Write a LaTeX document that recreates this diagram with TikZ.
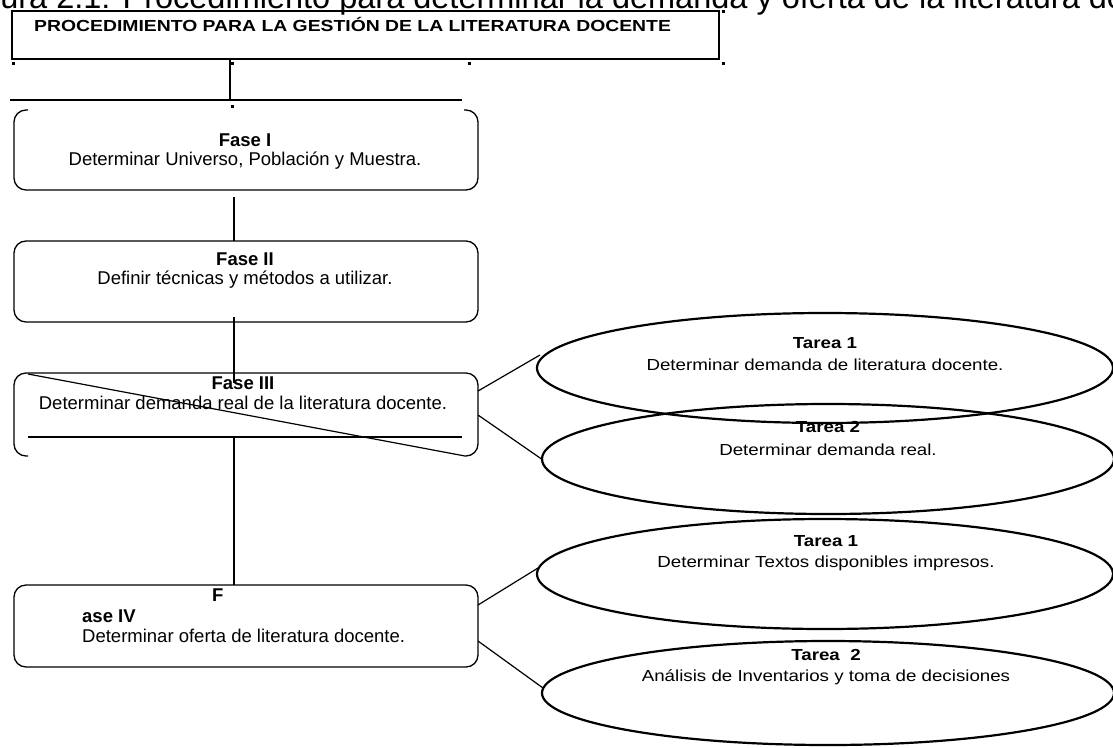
\documentclass[tikz,border=0pt]{standalone}
\usepackage{fontspec}
\setmainfont{Liberation Sans}
\usetikzlibrary{shapes.geometric}
\tikzset{
  caja/.style={draw, line width=1.8pt, inner sep=0pt},
  fase/.style={draw, line width=1.3pt, rounded corners=12pt, inner sep=0pt},
  tarea/.style={draw, ellipse, line width=2.2pt, inner sep=0pt},
  lbl/.style={anchor=base, inner sep=0pt, font=\fontsize{18.5}{18.5}\selectfont},
  tlbl/.style={anchor=base, inner sep=0pt, font=\fontsize{16}{16}\selectfont},
  enlace/.style={line width=1.2pt}
}
\newcommand{\ancho}[1]{\scalebox{1.17}[1]{#1}}
\begin{document}
\begin{tikzpicture}[x=1pt,y=-1pt]
  \useasboundingbox (0,0) rectangle (1113,747);
  \clip (0,0) rectangle (1113,747);
  \node[anchor=base west, inner sep=0pt, font=\fontsize{32.5}{32.5}\selectfont] (leyenda) at (-45,8)
    {Figura 2.1: Procedimiento para determinar la demanda y oferta de la literatura docente};

  % titulo
  \node[caja, minimum width=707pt, minimum height=48pt] (titulo) at (365.5,35) {};
  \node[anchor=base west, inner sep=0pt] (tit) at (34,31)
    {\scalebox{1.21}[1]{\fontsize{16}{16}\bfseries PROCEDIMIENTO PARA LA GESTIÓN DE LA LITERATURA DOCENTE}};
  \foreach \x/\y in {722/10,12/62,231/62,468/62,722/62,231/105}
    \fill (\x,\y) rectangle ++(3,3);

  % fases
  \draw[fase] (28,110) -- (14,110) -- (14,190) -- (478,190) -- (478,110) -- (464,110);
  \node[fase, minimum width=464pt, minimum height=81pt] (f2) at (246,281.5) {};
  \draw[fase] (28,456) -- (14,456) -- (14,373) -- (478,373) -- (478,456) -- (465,456);
  \node[fase, minimum width=464pt, minimum height=82pt] (f4) at (246,626) {};

  \node[lbl] (f1a) at (245,146) {\bfseries Fase I};
  \node[lbl] (f1b) at (245,165) {Determinar Universo, Población y Muestra.};
  \node[lbl] (f2a) at (245,265) {\bfseries Fase II};
  \node[lbl] (f2b) at (245,284) {Definir técnicas y métodos a utilizar.};
  \node[lbl] (f3a) at (243,389) {\bfseries Fase III};
  \node[lbl] (f3b) at (243,409) {Determinar demanda real de la literatura docente.};
  \node[lbl, anchor=base west] (f4a) at (212,601) {\bfseries F};
  \node[lbl, anchor=base west] (f4b) at (82,622) {\bfseries ase IV};
  \node[lbl, anchor=base west] (f4c) at (82,642) {Determinar oferta de literatura docente.};

  % tareas
  \node[tarea, minimum width=576pt, minimum height=110pt] (e1) at (825,368) {};
  \node[tarea, minimum width=572pt, minimum height=110pt] (e2) at (828,459) {};
  \node[tarea, minimum width=576pt, minimum height=110pt] (e3) at (825,574) {};
  \node[tarea, minimum width=572pt, minimum height=104pt] (e4) at (828,693) {};

  \node[tlbl] (e1a) at (825,348) {\ancho{\bfseries Tarea 1}};
  \node[tlbl] (e1b) at (825,370) {\ancho{Determinar demanda de literatura docente.}};
  \node[tlbl] (e2a) at (828,432) {\ancho{\bfseries Tarea 2}};
  \node[tlbl] (e2b) at (828,455) {\ancho{Determinar demanda real.}};
  \node[tlbl] (e3a) at (826,546) {\ancho{\bfseries Tarea 1}};
  \node[tlbl] (e3b) at (826,567) {\ancho{Determinar Textos disponibles impresos.}};
  \node[tlbl] (e4a) at (826,660) {\ancho{\bfseries Tarea\ \ 2}};
  \node[tlbl] (e4b) at (826,681) {\ancho{Análisis de Inventarios y toma de decisiones}};

  % puntos de union
  \coordinate (a0) at (230,59);   \coordinate (a1) at (230,100);
  \coordinate (b0) at (10,100);   \coordinate (b1) at (462,100);
  \coordinate (c0) at (234,197);  \coordinate (c1) at (234,241);
  \coordinate (d0) at (234,317);  \coordinate (d1) at (234,383);
  \coordinate (g0) at (28,437);   \coordinate (g1) at (462,437);
  \coordinate (h0) at (28,374);   \coordinate (h1) at (465,456);
  \coordinate (k0) at (234,437);  \coordinate (k1) at (234,585);
  \coordinate (m1) at (478,391);  \coordinate (m2) at (540,355);
  \coordinate (n1) at (478,415);  \coordinate (n2) at (543,460);
  \coordinate (p1) at (478,605);  \coordinate (p2) at (538,568);
  \coordinate (q1) at (478,641);  \coordinate (q2) at (543,688);

  \begin{scope}[enlace]
    \draw (a0) to (a1);
    \draw (b0) to (b1);
    \draw (c0) to (c1);
    \draw (d0) to (d1);
    \draw (g0) to (g1);
    \draw (h0) to (h1);
    \draw (k0) to (k1);
    \draw (m1) to (m2);
    \draw (n1) to (n2);
    \draw (p1) to (p2);
    \draw (q1) to (q2);
  \end{scope}
\end{tikzpicture}
\end{document}
